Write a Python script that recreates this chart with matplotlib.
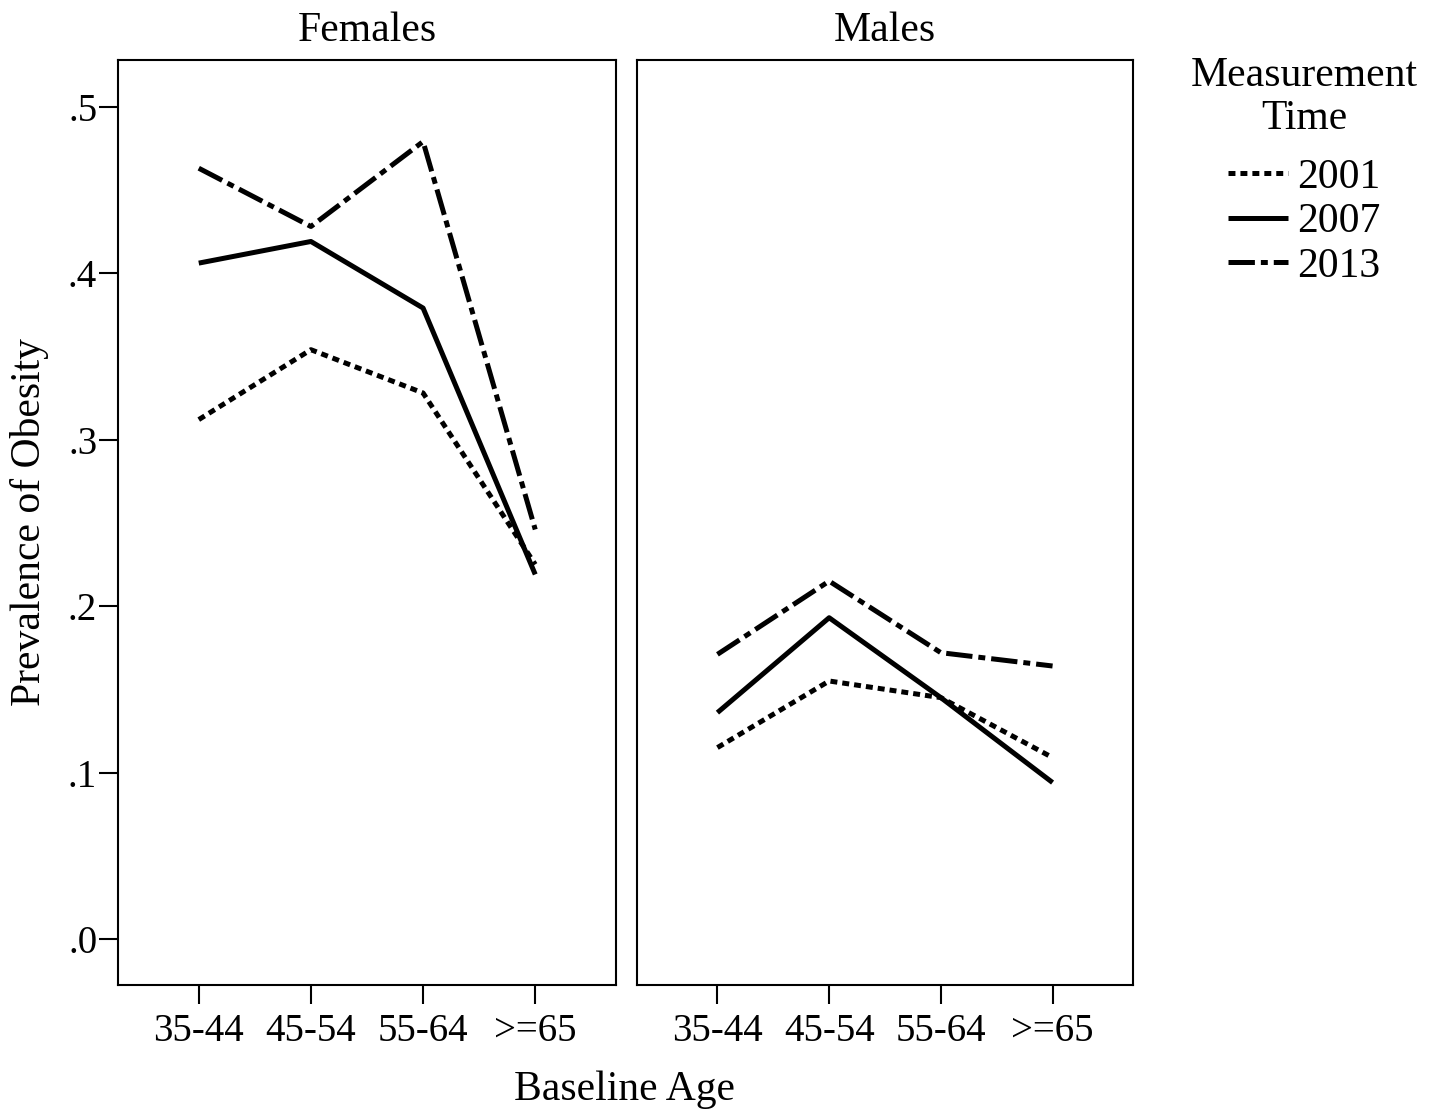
import numpy as np
import matplotlib
matplotlib.use("Agg")
import matplotlib.pyplot as plt
from matplotlib.ticker import FuncFormatter

# data
age_groups = ["35-44", "45-54", "55-64", ">=65"]
years = ["2001", "2007", "2013"]

females_2001 = [0.312, 0.354, 0.328, 0.225]
females_2007 = [0.406, 0.419, 0.379, 0.219]
females_2013 = [0.463, 0.428, 0.479, 0.246]

males_2001 = [0.115, 0.155, 0.145, 0.109]
males_2007 = [0.136, 0.193, 0.145, 0.094]
males_2013 = [0.171, 0.215, 0.172, 0.164]

plt.rcParams['font.family'] = ['Liberation Serif', 'DejaVu Serif']
plt.rcParams['lines.scale_dashes'] = False

W, H = 1442, 1114
fig = plt.figure(figsize=(W / 100, H / 100), dpi=100)

styles = {
    "2001": (0, (5.0, 3.6)),
    "2007": "-",
    "2013": (0, (19.0, 4.3, 5.0, 4.3)),
}
fs = 28
fs_big = 30


def panel(left, width, title, series, show_y):
    ax = fig.add_axes([left / W, (H - 985) / H, width / W, 925 / H])
    x = np.arange(len(age_groups))
    for yr, vals in zip(years, series):
        ax.plot(x, vals, color="black", lw=3.6, linestyle=styles[yr],
                solid_capstyle="butt", dash_capstyle="butt", label=yr)
    ax.set_xlim(-0.72, 3.72)
    ax.set_ylim(-0.0276, 0.528)
    ax.set_xticks(x)
    ax.set_xticklabels(age_groups, fontsize=fs)
    ax.set_yticks([0, 0.1, 0.2, 0.3, 0.4, 0.5])
    ax.yaxis.set_major_formatter(FuncFormatter(lambda v, p: ("%.1f" % v)[1:]))
    ax.tick_params(axis="x", length=14, width=1.5, pad=6)
    ax.tick_params(axis="y", length=14, width=1.5, labelsize=fs, pad=1)
    if not show_y:
        ax.tick_params(axis="y", left=False, labelleft=False)
    for s in ax.spines.values():
        s.set_linewidth(1.5)
    ax.set_title(title, fontsize=fs_big, pad=14)
    return ax


ax1 = panel(118, 498, "Females", [females_2001, females_2007, females_2013], True)
ax2 = panel(637, 496, "Males", [males_2001, males_2007, males_2013], False)

fig.text(625 / W, 1 - 1090 / H, "Baseline Age", ha="center", va="center", fontsize=fs_big)
fig.text(30 / W, 1 - 522 / H, "Prevalence of Obesity", ha="center", va="center",
         rotation=90, fontsize=fs_big)

# legend title drawn separately so the gap to the entries can be set
fig.text(1304 / W, 1 - 97 / H, "Measurement\nTime", ha="center", va="center",
         multialignment="center", fontsize=fs_big, linespacing=1.15)
handles, labels = ax1.get_legend_handles_labels()
leg = fig.legend(handles, labels, loc="upper left",
                 bbox_to_anchor=(1228 / W, 1 - 158 / H), frameon=False,
                 fontsize=fs_big, handlelength=1.45,
                 handletextpad=0.2, labelspacing=0.15, borderpad=0,
                 borderaxespad=0)

fig.savefig("out.png", dpi=100)
